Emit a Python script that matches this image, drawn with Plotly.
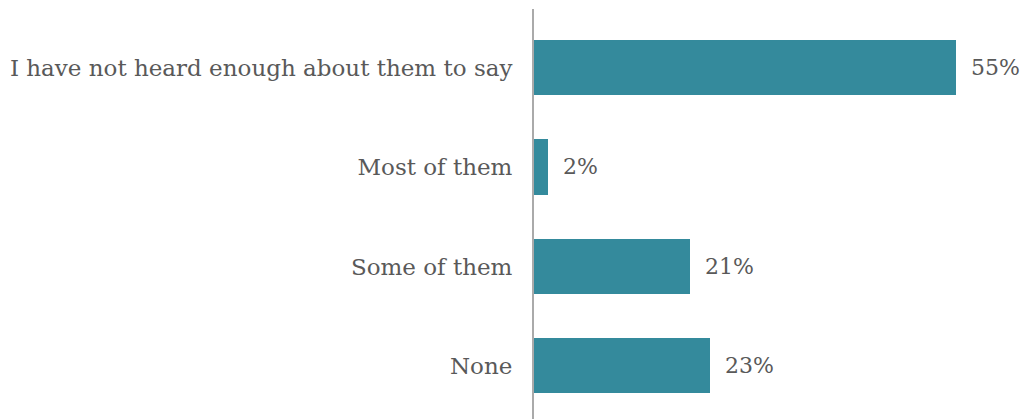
import plotly.graph_objects as go

categories = ["I have not heard enough about them to say", "Most of them", "Some of them", "None"]
values = [55, 1.8, 20.4, 23]
value_labels = ["55%", "2%", "21%", "23%"]

bar_color = "#348a9c"
text_color = "#595959"
font_family = "DejaVu Serif"

fig = go.Figure()
fig.add_trace(go.Bar(
    y=categories,
    x=values,
    orientation="h",
    marker=dict(color=bar_color, line=dict(width=0)),
    width=0.553,
    hoverinfo="skip",
))

for cat, v, lab in zip(categories, values, value_labels):
    fig.add_annotation(
        x=v, y=cat, text=lab, showarrow=False,
        xanchor="left", yanchor="middle", xshift=13,
        font=dict(family=font_family, size=22, color=text_color),
    )

fig.update_layout(
    width=1026, height=419,
    margin=dict(l=534, r=32, t=9, b=0),
    paper_bgcolor="white", plot_bgcolor="white",
    showlegend=False,
    font=dict(family=font_family, size=23, color=text_color),
    bargap=0,
)
fig.update_xaxes(range=[0, 60], showgrid=False, zeroline=False, showticklabels=False, showline=False)
fig.update_yaxes(
    type="category", categoryorder="array", categoryarray=categories,
    range=[3.533, -0.588], showgrid=False, zeroline=False,
    showline=True, linecolor="#aaaaaa", linewidth=2,
    ticks="", ticklabelstandoff=15,
    tickfont=dict(family=font_family, size=23, color=text_color),
)

fig.write_html("out.html")
